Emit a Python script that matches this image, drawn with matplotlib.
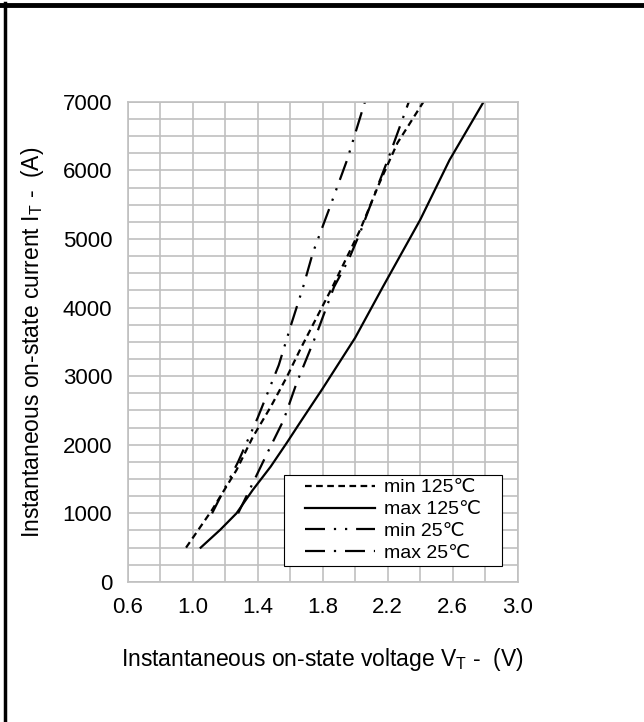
import matplotlib
matplotlib.use('Agg')
import matplotlib.pyplot as plt
from matplotlib.lines import Line2D
from matplotlib.patches import Rectangle
from matplotlib.ticker import MultipleLocator

plt.rcParams['font.family'] = ['Liberation Sans', 'DejaVu Sans']
plt.rcParams['mathtext.fontset'] = 'custom'
plt.rcParams['mathtext.rm'] = 'Liberation Sans'

# 曲线数据 (V, A)
min125_v = [0.96, 1.12, 1.27, 1.37, 1.48, 1.58, 1.66, 1.86, 2.03, 2.15, 2.26, 2.42]
min125_i = [500, 1050, 1630, 2110, 2550, 2990, 3380, 4300, 5130, 5820, 6400, 7000]

max125_v = [1.05, 1.17, 1.27, 1.37, 1.48, 1.58, 1.66, 1.80, 2.00, 2.17, 2.40, 2.58, 2.79]
max125_i = [500, 760, 1000, 1340, 1680, 2030, 2320, 2820, 3560, 4300, 5280, 6150, 7000]

min25_v = [1.12, 1.28, 1.40, 1.53, 1.61, 1.68, 1.74, 1.85, 1.95, 2.06]
min25_i = [1000, 1750, 2390, 3160, 3780, 4300, 4800, 5500, 6150, 7000]

max25_v = [1.28, 1.35, 1.46, 1.56, 1.64, 1.76, 1.87, 1.96, 2.03, 2.13, 2.20, 2.33]
max25_i = [1000, 1340, 1880, 2360, 2900, 3600, 4300, 4700, 5090, 5720, 6150, 7000]

labels = ['min 125℃', 'max 125℃', 'min 25℃', 'max 25℃']

fig = plt.figure(figsize=(6.44, 7.22), dpi=100)
ax = fig.add_axes([0.198, 0.194, 0.606, 0.665])

lw = 1.6
ax.plot(min125_v, min125_i, color='black', lw=lw, dashes=(3, 2), label=labels[0])
ax.plot(max125_v, max125_i, color='black', lw=lw, label=labels[1])
ax.plot(min25_v, min25_i, color='black', lw=lw, dashes=(9, 4, 1, 4, 1, 4), label=labels[2])
ax.plot(max25_v, max25_i, color='black', lw=lw, dashes=(9, 4, 1, 4), label=labels[3])

ax.set_xlim(0.6, 3.0)
ax.set_ylim(0, 7000)
ax.xaxis.set_minor_locator(MultipleLocator(0.2))
ax.yaxis.set_major_locator(MultipleLocator(1000))
ax.yaxis.set_minor_locator(MultipleLocator(250))
ax.set_xticks([0.6, 1.0, 1.4, 1.8, 2.2, 2.6, 3.0])
ax.set_xticklabels(['0.6', '1.0', '1.4', '1.8', '2.2', '2.6', '3.0'])
ax.grid(which='both', color='#c0c0c0', lw=1.2)
ax.set_axisbelow(True)
ax.tick_params(which='both', length=0, labelsize=16)
ax.tick_params(axis='x', pad=11)
ax.tick_params(axis='y', pad=11)
for s in ax.spines.values():
    s.set_color('#c0c0c0')
    s.set_linewidth(1.2)

ax.set_xlabel(r'Instantaneous on-state voltage V$_\mathregular{T}$ -  (V)', fontsize=16.5, labelpad=20)
ax.set_ylabel(r'Instantaneous on-state current I$_\mathregular{T}$ -  (A)', fontsize=16.5, labelpad=12)

# 图例框
x0, y0, x1, y1 = 0.40, 0.033, 0.959, 0.223
ax.add_patch(Rectangle((x0, y0), x1 - x0, y1 - y0, transform=ax.transAxes,
                       facecolor='white', edgecolor='black', lw=0.8, zorder=5))
leg = ax.legend(loc='center', bbox_to_anchor=((x0 + x1) / 2, (y0 + y1) / 2), fontsize=14,
                frameon=False, handlelength=3.6, borderpad=0.1, labelspacing=0.22,
                handletextpad=0.45)
leg.set_zorder(6)

# 外框
fig.add_artist(Line2D([0, 644], [717, 717], color='black', lw=3.5, transform=None))
fig.add_artist(Line2D([5, 5], [0, 719], color='black', lw=2.5, transform=None))

fig.savefig('out.png', dpi=100)
